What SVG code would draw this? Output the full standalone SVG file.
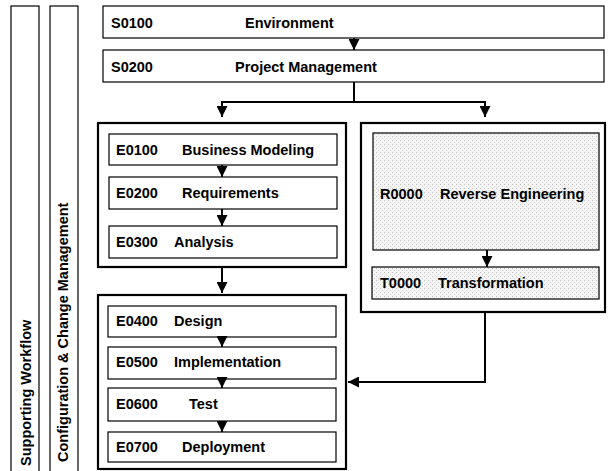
<svg xmlns="http://www.w3.org/2000/svg" width="611" height="471" viewBox="0 0 611 471">
<style>
text{font-family:"Liberation Sans",Arial,sans-serif;font-weight:bold;font-size:14.5px;fill:#000}
.lane{fill:#fff;stroke:#000;stroke-width:1.2}
.box{fill:#fff;stroke:#000;stroke-width:1.2}
.outer{fill:#fff;stroke:#000;stroke-width:2.2}
.gray{fill:url(#dots);stroke:#000;stroke-width:1.2}
.conn{fill:none;stroke:#000;stroke-width:2}
</style>
<defs>
<pattern id="dots" width="4" height="4" patternUnits="userSpaceOnUse">
<rect width="4" height="4" fill="#f5f5f5"/>
<rect x="0" y="0" width="1" height="1" fill="#bdbdbd"/>
<rect x="2" y="2" width="1" height="1" fill="#d0d0d0"/>
</pattern>
<marker id="arr" markerUnits="userSpaceOnUse" markerWidth="11" markerHeight="11" refX="11" refY="5.5" orient="auto">
<path d="M0,0 L11,5.5 L0,11 z" fill="#000"/>
</marker>
</defs>
<rect width="611" height="471" fill="#fff"/>

<g id="lane-supporting">
<rect class="lane" x="11" y="6" width="28" height="470"/>
<text transform="translate(31,466) rotate(-90)">Supporting Workflow</text>
</g>
<g id="lane-config">
<rect class="lane" x="50" y="6" width="28" height="470"/>
<text transform="translate(68,462) rotate(-90)">Configuration &amp; Change Management</text>
</g>

<g id="S0100">
<rect class="box" x="103" y="6" width="501" height="32"/>
<text x="111" y="28">S0100</text>
<text x="245" y="28">Environment</text>
</g>
<g id="S0200">
<rect class="box" x="103" y="50" width="501" height="32"/>
<text x="111" y="72">S0200</text>
<text x="235" y="72">Project Management</text>
</g>

<g id="group-E1">
<rect class="outer" x="98" y="123" width="248" height="144"/>
</g>
<g id="E0100">
<rect class="box" x="109" y="134" width="228" height="31"/>
<text x="116" y="155">E0100</text>
<text x="182" y="155">Business Modeling</text>
</g>
<g id="E0200">
<rect class="box" x="109" y="177" width="228" height="32"/>
<text x="116" y="198">E0200</text>
<text x="182" y="198">Requirements</text>
</g>
<g id="E0300">
<rect class="box" x="109" y="226" width="228" height="32"/>
<text x="116" y="247">E0300</text>
<text x="174" y="247">Analysis</text>
</g>

<g id="group-R">
<rect class="outer" x="361" y="123" width="244" height="189"/>
</g>
<g id="R0000">
<rect class="gray" x="373" y="133" width="226" height="117"/>
<text x="380" y="199">R0000</text>
<text x="440" y="199">Reverse Engineering</text>
</g>
<g id="T0000">
<rect class="gray" x="372" y="267" width="227" height="32"/>
<text x="380" y="288">T0000</text>
<text x="438" y="288">Transformation</text>
</g>

<g id="group-E2">
<rect class="outer" x="98" y="295" width="248" height="174"/>
</g>
<g id="E0400">
<rect class="box" x="108" y="306" width="228" height="31"/>
<text x="116" y="326">E0400</text>
<text x="174" y="326">Design</text>
</g>
<g id="E0500">
<rect class="box" x="108" y="347" width="228" height="32"/>
<text x="116" y="367">E0500</text>
<text x="174" y="367">Implementation</text>
</g>
<g id="E0600">
<rect class="box" x="108" y="388" width="228" height="33"/>
<text x="116" y="409">E0600</text>
<text x="189" y="409">Test</text>
</g>
<g id="E0700">
<rect class="box" x="108" y="432" width="228" height="30"/>
<text x="116" y="452">E0700</text>
<text x="182" y="452">Deployment</text>
</g>

<g id="connectors">
<path class="conn" d="M354,38 V50" marker-end="url(#arr)"/>
<path class="conn" d="M354,82 V102 H222 V117" marker-end="url(#arr)"/>
<path class="conn" d="M354,102 H485 V117" marker-end="url(#arr)"/>
<path class="conn" d="M222,165 V177" marker-end="url(#arr)"/>
<path class="conn" d="M222,209 V226" marker-end="url(#arr)"/>
<path class="conn" d="M222,268 V293" marker-end="url(#arr)"/>
<path class="conn" d="M222,337 V347" marker-end="url(#arr)"/>
<path class="conn" d="M222,379 V388" marker-end="url(#arr)"/>
<path class="conn" d="M222,421 V432" marker-end="url(#arr)"/>
<path class="conn" d="M487,250 V267" marker-end="url(#arr)"/>
<path class="conn" d="M485,313 V382 H348" marker-end="url(#arr)"/>
</g>
</svg>
